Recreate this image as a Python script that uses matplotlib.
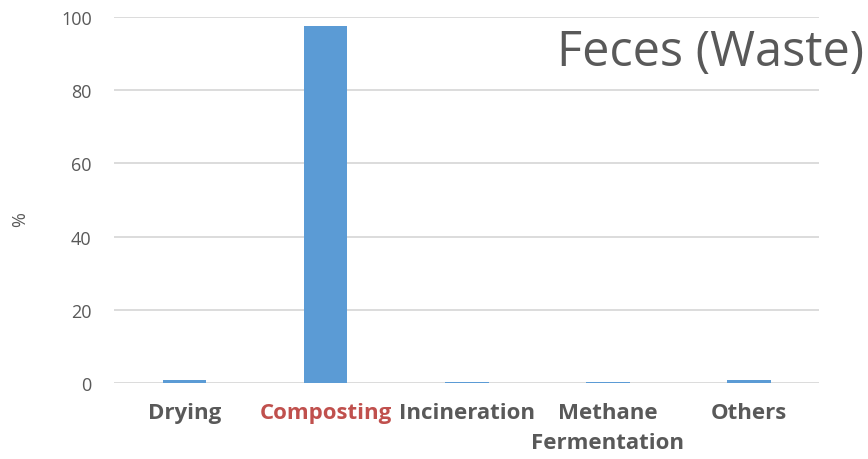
import matplotlib.pyplot as plt
import numpy as np

categories = ["Drying", "Composting", "Incineration", "Methane\nFermentation", "Others"]
values = [0.8, 97.5, 0.2, 0.2, 0.8]
yticks = [0, 20, 40, 60, 80, 100]
label_colors = ["#595959", "#C0504D", "#595959", "#595959", "#595959"]

plt.rcParams['font.family'] = ['Open Sans', 'DejaVu Sans']

fig = plt.figure(figsize=(8.68, 4.6), dpi=100)
ax = fig.add_axes([0.1313, 0.1652, 0.8127, 0.7957])

x = np.arange(len(categories))
ax.bar(x, values, width=0.31, color="#5B9BD5", zorder=3)

ax.set_xlim(-0.5, len(categories) - 0.5)
ax.set_ylim(0, 100)
ax.set_yticks(yticks)
ax.set_yticklabels([str(v) for v in yticks], fontsize=13, color="#595959")
ax.grid(axis="y", color="#D9D9D9", linewidth=1.3, zorder=0)
ax.tick_params(axis="both", length=0)
ax.tick_params(axis="y", pad=16)
ax.tick_params(axis="x", pad=14)
for s in ax.spines.values():
    s.set_visible(False)

ax.set_xticks(x)
ax.set_xticklabels(categories, fontsize=16, fontweight="bold", linespacing=1.55)
for lbl, c in zip(ax.get_xticklabels(), label_colors):
    lbl.set_color(c)

ax.set_ylabel("%", fontsize=13, color="#595959")
ax.yaxis.set_label_coords(-0.12, 0.45)

fig.text(0.995, 0.885, "Feces (Waste)", fontsize=35, color="#595959",
         ha="right", va="center")

fig.savefig("out.png", dpi=100)
